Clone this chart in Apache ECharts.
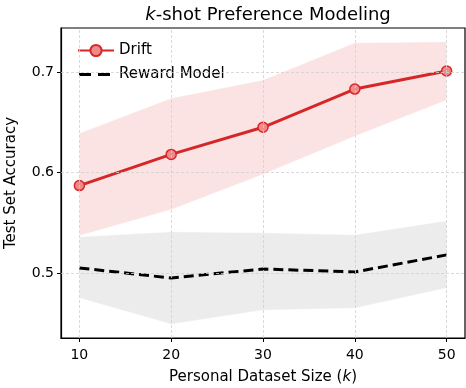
<!DOCTYPE html>
<html lang="en">
<head>
    <meta charset="UTF-8">
    <title>k-shot Preference Modeling</title>
    <script src="https://cdn.jsdelivr.net/npm/echarts@6/dist/echarts.min.js"></script>
    <style>
        body { margin: 0; background: #fff; }
    </style>
</head>
<body>
    <div id="main" style="width:466px;height:388px;"></div>

    <script>
        // dataset size k
        const kValues = [10, 20, 30, 40, 50];
        // Drift: mean and band
        const driftMean = [0.587, 0.618, 0.645, 0.683, 0.701];
        const driftUpper = [0.639, 0.674, 0.692, 0.729, 0.730];
        const driftLower = [0.537, 0.563, 0.598, 0.636, 0.672];
        // Reward model: mean and band
        const rmMean = [0.505, 0.495, 0.504, 0.501, 0.518];
        const rmUpper = [0.536, 0.541, 0.540, 0.538, 0.552];
        const rmLower = [0.475, 0.449, 0.463, 0.465, 0.485];
        // tick labels
        const xTicks = [10, 20, 30, 40, 50];
        const yTicks = [0.5, 0.6, 0.7];

        const font = 'DejaVu Sans';
        const red = '#d62728';

        function pairs(xs, ys) {
            return xs.map(function (x, i) { return [x, ys[i]]; });
        }

        // band polygon drawn through the axes' own scales
        function bandSeries(upper, lower, color) {
            return {
                type: 'custom',
                silent: true,
                z: 1,
                data: [[kValues[0], lower[0]]],
                encode: { x: 0, y: 1 },
                renderItem: function (params, api) {
                    const pts = [];
                    for (let i = 0; i < kValues.length; i++) {
                        pts.push(api.coord([kValues[i], upper[i]]));
                    }
                    for (let i = kValues.length - 1; i >= 0; i--) {
                        pts.push(api.coord([kValues[i], lower[i]]));
                    }
                    return {
                        type: 'polygon',
                        shape: { points: pts },
                        style: { fill: color, stroke: 'rgba(255,255,255,0.6)', lineWidth: 0.8 }
                    };
                }
            };
        }

        const gridLine = { color: '#d0d0d0', type: [3, 2], width: 0.8 };

        const option = {
            animation: false,
            textStyle: { fontFamily: font },
            title: {
                text: '{i|k}-shot Preference Modeling',
                left: 263,
                top: 1,
                textAlign: 'center',
                textStyle: {
                    fontSize: 18,
                    fontWeight: 'normal',
                    color: '#000',
                    fontFamily: font,
                    rich: {
                        i: { fontSize: 18, fontStyle: 'italic', fontFamily: font, color: '#000' }
                    }
                }
            },
            grid: {
                left: 61, right: 1, top: 28, bottom: 50,
                outerBoundsMode: 'none',
                show: true, borderColor: '#000', borderWidth: 1.2
            },
            legend: {
                orient: 'vertical',
                left: 72,
                top: 38,
                itemWidth: 36,
                itemHeight: 14,
                itemGap: 9,
                textStyle: { fontSize: 15, color: '#000', fontFamily: font },
                data: [
                    { name: 'Drift' },
                    { name: 'Reward Model', icon: 'path://M1,0h12v3h-12z M20,0h12v3h-12z M0,1.5h0.01v0.01h-0.01z M36,1.5h0.01v0.01h-0.01z' }
                ]
            },
            xAxis: {
                type: 'value',
                min: 8,
                max: 52,
                name: 'Personal Dataset Size ({i|k})',
                nameLocation: 'middle',
                nameGap: 32,
                nameTextStyle: {
                    fontSize: 15, color: '#000', fontFamily: font,
                    rich: { i: { fontSize: 15, fontStyle: 'italic', fontFamily: font, color: '#000' } }
                },
                axisLine: { lineStyle: { color: '#000', width: 1.2 } },
                axisTick: { show: true, length: 4, lineStyle: { color: '#000' }, customValues: xTicks },
                axisLabel: { fontSize: 14, color: '#000', margin: 10, customValues: xTicks },
                splitLine: { show: false }
            },
            yAxis: {
                type: 'value',
                min: 0.4353,
                max: 0.7438,
                name: 'Test Set Accuracy',
                nameLocation: 'middle',
                nameGap: 42,
                nameTextStyle: { fontSize: 15, color: '#000', fontFamily: font },
                axisLine: { show: true, lineStyle: { color: '#000', width: 1.2 } },
                axisTick: { show: true, length: 4, lineStyle: { color: '#000' }, customValues: yTicks },
                axisLabel: {
                    fontSize: 14, color: '#000', margin: 7, customValues: yTicks,
                    formatter: function (v) { return v.toFixed(1); }
                },
                splitLine: { show: false }
            },
            series: [
                // grid lines
                {
                    type: 'line',
                    data: [],
                    z: 0,
                    silent: true,
                    markLine: {
                        silent: true,
                        symbol: 'none',
                        label: { show: false },
                        lineStyle: gridLine,
                        data: xTicks.map(function (x) { return { xAxis: x }; })
                            .concat(yTicks.map(function (y) { return { yAxis: y }; }))
                    }
                },
                bandSeries(driftUpper, driftLower, '#fbe3e3'),
                bandSeries(rmUpper, rmLower, '#ececec'),
                {
                    name: 'Reward Model',
                    type: 'line',
                    z: 3,
                    data: pairs(kValues, rmMean),
                    symbol: 'none',
                    itemStyle: { color: '#000' },
                    lineStyle: { color: '#000', width: 3, type: [10, 5] }
                },
                {
                    name: 'Drift',
                    type: 'line',
                    z: 4,
                    data: pairs(kValues, driftMean),
                    symbol: 'circle',
                    symbolSize: 10,
                    itemStyle: { color: '#ee8a8a', borderColor: red, borderWidth: 1.5 },
                    lineStyle: { color: red, width: 3 }
                }
            ]
        };

        var myChart = echarts.init(document.getElementById('main'));
        myChart.setOption(option);
    </script>
</body>
</html>
